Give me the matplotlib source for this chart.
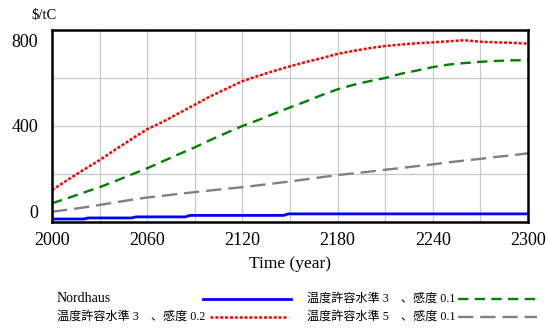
import matplotlib
matplotlib.use('Agg')
import matplotlib.pyplot as plt
from matplotlib.lines import Line2D

plt.rcParams['font.family'] = ['Liberation Serif', 'Noto Sans CJK JP']
plt.rcParams['lines.scale_dashes'] = False

# ---- data ----
years = list(range(2000, 2301, 10))
red_vals = [100, 148, 195, 240, 290, 338, 385, 420, 460, 500, 540, 575, 610, 635, 658,
            680, 700, 718, 738, 752, 765, 775, 782, 788, 792, 797, 802, 795, 792, 790, 786]
green_vals = [38, 62, 88, 113, 142, 172, 202, 235, 268, 300, 335, 368, 400, 428, 458,
              487, 515, 545, 572, 593, 610, 625, 645, 660, 676, 688, 695, 701, 705, 708, 708]
gray_vals = [-2, 8, 18, 30, 42, 54, 65, 73, 82, 90, 98, 106, 113, 122, 131,
             140, 150, 160, 170, 178, 186, 195, 203, 212, 220, 230, 238, 246, 255, 263, 272]
blue_years = [2000, 2020, 2023, 2050, 2053, 2084, 2087, 2146, 2149, 2300]
blue_vals = [-36, -36, -31, -31, -26, -26, -19, -19, -12, -12]

labels = ["Nordhaus",
          "温度許容水準 3　、感度 0.2",
          "温度許容水準 3　、感度 0.1",
          "温度許容水準 5　、感度 0.1"]
x_ticks = [2000, 2060, 2120, 2180, 2240, 2300]
y_ticks = [0, 400, 800]
xlim = (2000, 2300)
ylim = (-50, 850)

# ---- figure ----
fig = plt.figure(figsize=(5.48, 3.28), dpi=100)
ax = fig.add_axes([52/548, 1-222/328, 476/548, 192/328])
ax.set_xlim(*xlim)
ax.set_ylim(*ylim)

# grid: 10 vertical divisions, 4 horizontal divisions
for i in range(1, 10):
    ax.axvline(xlim[0] + (xlim[1]-xlim[0])*i/10, color='#c8c8c8', lw=0.9, zorder=0)
for i in range(1, 4):
    ax.axhline(ylim[0] + (ylim[1]-ylim[0])*i/4, color='#c8c8c8', lw=0.9, zorder=0)

styles = {
    'blue': dict(color='#0000ff', lw=2.0, linestyle='-'),
    'red': dict(color='#ff0000', lw=1.8, linestyle=(0, (2.2, 1.3)), dash_capstyle='butt'),
    'green': dict(color='#008000', lw=1.7, linestyle=(0, (7.5, 4.5))),
    'gray': dict(color='#808080', lw=1.7, linestyle=(0, (11.0, 5.0))),
}

ax.plot(blue_years, blue_vals, **styles['blue'])
ax.plot(years, red_vals, **styles['red'])
ax.plot(years, green_vals, **styles['green'])
ax.plot(years, gray_vals, **styles['gray'])

ax.set_xticks(x_ticks)
ax.set_yticks(y_ticks)
ax.tick_params(axis='both', length=0, labelsize=13)
ax.tick_params(axis='y', pad=10)
ax.tick_params(axis='x', pad=7)
for s in ax.spines.values():
    s.set_linewidth(1.8)
    s.set_color('black')

ax.set_xlabel("Time (year)", fontsize=12.5, labelpad=5)
fig.text(44/548, 1-15/328, "$/tC", fontsize=10.5, ha='center', va='center')

# ---- legend (manual) ----
rows_y = [1-299/328, 1-317/328]
entries = [
    (labels[0], 57, 203, 291, rows_y[0], 'blue', 10),
    (labels[1], 57, 210, 288, rows_y[1], 'red', 8.7),
    (labels[2], 307, 458, 541, rows_y[0], 'green', 8.7),
    (labels[3], 307, 458, 537, rows_y[1], 'gray', 8.7),
]
for text, tx, l0, l1, yy, key, fs in entries:
    fig.text(tx/548, yy, text, fontsize=fs, ha='left', va='center')
    st = dict(styles[key])
    fig.add_artist(Line2D([l0/548, l1/548], [yy, yy], transform=fig.transFigure, **st))

fig.savefig('out.png', dpi=100)
